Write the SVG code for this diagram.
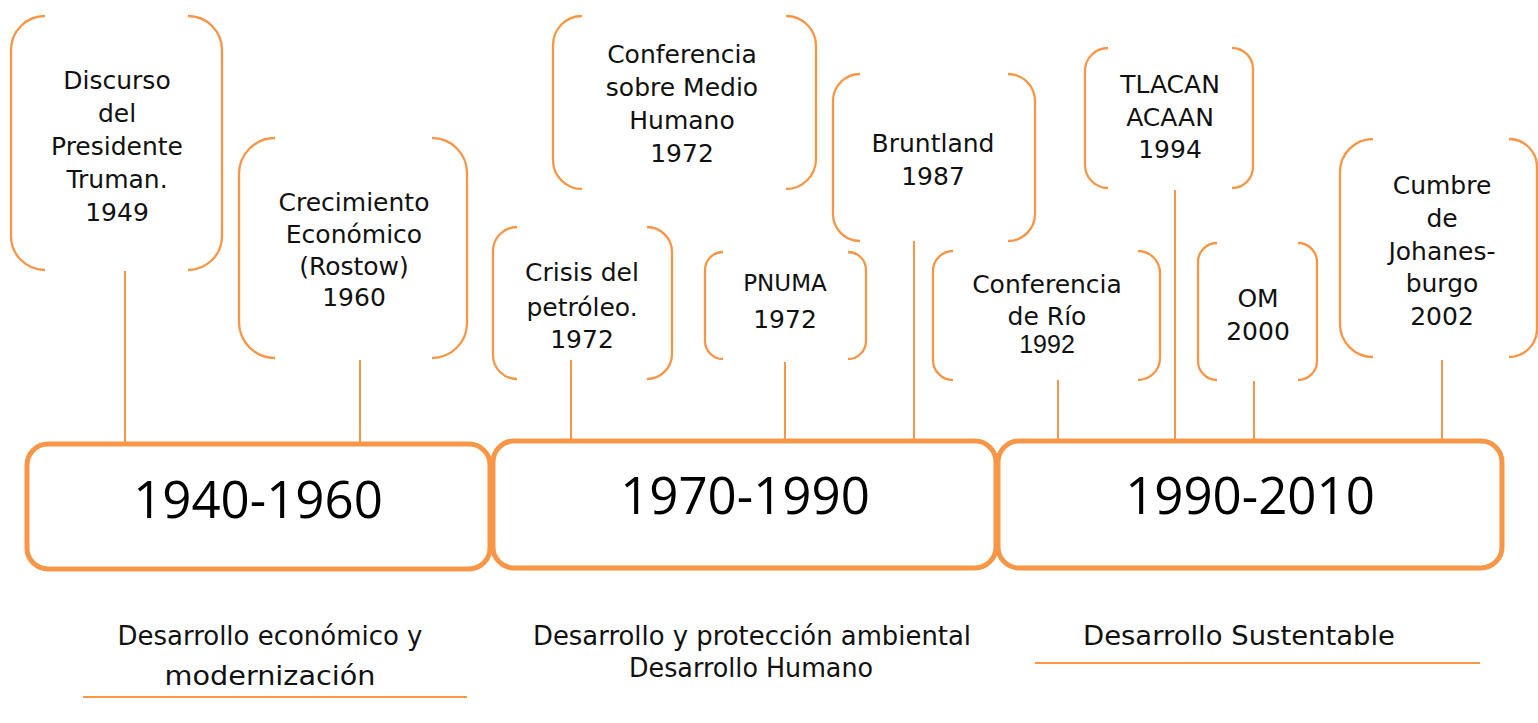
<svg xmlns="http://www.w3.org/2000/svg" width="1538" height="723" viewBox="0 0 1538 723">
<style>
.br{fill:none;stroke:#F79646;stroke-width:2.3}
.cn{stroke:#F79646;stroke-width:2}
.pb{fill:#fff;stroke:#F79646;stroke-width:5}
.t{font-family:"DejaVu Sans",sans-serif;font-size:25px;fill:#111;text-anchor:middle}
.a{font-family:"Liberation Sans",Arial,sans-serif;font-size:25px;fill:#111;text-anchor:middle}
.p{font-family:"Open Sans",sans-serif;font-size:51px;fill:#000;text-anchor:middle}
.ul{stroke:#F79646;stroke-width:2}
</style>
<rect width="1538" height="723" fill="#fff"/>
<g id="connectors">
<line class="cn" x1="125" y1="271" x2="125" y2="444"/>
<line class="cn" x1="360" y1="360" x2="360" y2="444"/>
<line class="cn" x1="571" y1="360" x2="571" y2="441"/>
<line class="cn" x1="785" y1="362" x2="785" y2="441"/>
<line class="cn" x1="914" y1="241" x2="914" y2="441"/>
<line class="cn" x1="1058" y1="380" x2="1058" y2="441"/>
<line class="cn" x1="1175" y1="190" x2="1175" y2="441"/>
<line class="cn" x1="1254" y1="381" x2="1254" y2="441"/>
<line class="cn" x1="1442" y1="360" x2="1442" y2="441"/>
</g>
<g id="n-truman">
<path class="br" d="M45,16 A34,34 0 0 0 11,50 V236 A34,34 0 0 0 45,270"/>
<path class="br" d="M188,16 A34,34 0 0 1 222,50 V236 A34,34 0 0 1 188,270"/>
<text class="t" x="117" y="89">Discurso</text>
<text class="t" x="117" y="122">del</text>
<text class="t" x="117" y="155">Presidente</text>
<text class="t" x="117" y="188">Truman.</text>
<text class="t" x="117" y="221">1949</text>
</g>
<g id="n-rostow">
<path class="br" d="M275,138 A36,36 0 0 0 239,174 V322 A36,36 0 0 0 275,358"/>
<path class="br" d="M432,138 A35,35 0 0 1 467,173 V323 A35,35 0 0 1 432,358"/>
<text class="t" x="354" y="211">Crecimiento</text>
<text class="t" x="354" y="243">Económico</text>
<text class="t" x="354" y="275">(Rostow)</text>
<text class="t" x="354" y="306">1960</text>
</g>
<g id="n-medio-humano">
<path class="br" d="M582,16 A29,29 0 0 0 553,45 V160 A29,29 0 0 0 582,189"/>
<path class="br" d="M786,16 A30,30 0 0 1 816,46 V159 A30,30 0 0 1 786,189"/>
<text class="t" x="682" y="63">Conferencia</text>
<text class="t" x="682" y="96">sobre Medio</text>
<text class="t" x="682" y="129">Humano</text>
<text class="t" x="682" y="162">1972</text>
</g>
<g id="n-petroleo">
<path class="br" d="M517,227 A24,24 0 0 0 493,251 V355 A24,24 0 0 0 517,379"/>
<path class="br" d="M647,227 A25,25 0 0 1 672,252 V354 A25,25 0 0 1 647,379"/>
<text class="t" x="582" y="281">Crisis del</text>
<text class="t" x="582" y="316">petróleo.</text>
<text class="t" x="582" y="348">1972</text>
</g>
<g id="n-pnuma">
<path class="br" d="M723,252 A18,18 0 0 0 705,270 V341 A18,18 0 0 0 723,359"/>
<path class="br" d="M848,252 A18,18 0 0 1 866,270 V341 A18,18 0 0 1 848,359"/>
<text class="t" x="785" y="291" style="font-size:23px">PNUMA</text>
<text class="t" x="785" y="328">1972</text>
</g>
<g id="n-bruntland">
<path class="br" d="M860,74 A27,27 0 0 0 833,101 V214 A27,27 0 0 0 860,241"/>
<path class="br" d="M1008,74 A27,27 0 0 1 1035,101 V214 A27,27 0 0 1 1008,241"/>
<text class="t" x="933" y="152">Bruntland</text>
<text class="t" x="933" y="185">1987</text>
</g>
<g id="n-rio">
<path class="br" d="M953,251 A20,20 0 0 0 933,271 V360 A20,20 0 0 0 953,380"/>
<path class="br" d="M1138,251 A22,22 0 0 1 1160,273 V358 A22,22 0 0 1 1138,380"/>
<text class="t" x="1047" y="293">Conferencia</text>
<text class="t" x="1047" y="325">de Río</text>
<text class="a" x="1047" y="353">1992</text>
</g>
<g id="n-tlcan">
<path class="br" d="M1108,48 A23,23 0 0 0 1085,71 V165 A23,23 0 0 0 1108,188"/>
<path class="br" d="M1232,48 A21,21 0 0 1 1253,69 V167 A21,21 0 0 1 1232,188"/>
<text class="t" x="1170" y="93">TLACAN</text>
<text class="t" x="1170" y="126">ACAAN</text>
<text class="t" x="1170" y="158">1994</text>
</g>
<g id="n-om">
<path class="br" d="M1217,243 A19,19 0 0 0 1198,262 V361 A19,19 0 0 0 1217,380"/>
<path class="br" d="M1298,243 A19,19 0 0 1 1317,262 V361 A19,19 0 0 1 1298,380"/>
<text class="t" x="1258" y="307">OM</text>
<text class="t" x="1258" y="340">2000</text>
</g>
<g id="n-johanesburgo">
<path class="br" d="M1373,139 A33,33 0 0 0 1340,172 V324 A33,33 0 0 0 1373,357"/>
<path class="br" d="M1509,139 A28,28 0 0 1 1537,167 V329 A28,28 0 0 1 1509,357"/>
<text class="t" x="1442" y="194">Cumbre</text>
<text class="t" x="1442" y="227">de</text>
<text class="t" x="1442" y="260">Johanes-</text>
<text class="t" x="1442" y="292">burgo</text>
<text class="t" x="1442" y="325">2002</text>
</g>
<g id="p1940">
<rect class="pb" x="27" y="444" width="463" height="125" rx="21"/>
<text class="p" x="258" y="518">1940-1960</text>
</g>
<g id="p1970">
<rect class="pb" x="493" y="441" width="503" height="127" rx="21"/>
<text class="p" x="745" y="514">1970-1990</text>
</g>
<g id="p1990">
<rect class="pb" x="998" y="441" width="504" height="127" rx="21"/>
<text class="p" x="1250" y="514">1990-2010</text>
</g>
<g id="l1">
<text class="t" x="270" y="645" style="font-size:26px" textLength="305" lengthAdjust="spacingAndGlyphs">Desarrollo económico y</text>
<text class="t" x="270" y="685" style="font-size:26px" textLength="211" lengthAdjust="spacingAndGlyphs">modernización</text>
<line class="ul" x1="83" y1="697" x2="467" y2="697"/>
</g>
<g id="l2">
<text class="t" x="752" y="645" style="font-size:26px" textLength="438" lengthAdjust="spacingAndGlyphs">Desarrollo y protección ambiental</text>
<text class="t" x="751" y="677" style="font-size:26px" textLength="244" lengthAdjust="spacingAndGlyphs">Desarrollo Humano</text>
</g>
<g id="l3">
<text class="t" x="1239" y="645" style="font-size:26px" textLength="312" lengthAdjust="spacingAndGlyphs">Desarrollo Sustentable</text>
<line class="ul" x1="1035" y1="663" x2="1480" y2="663"/>
</g>
</svg>
